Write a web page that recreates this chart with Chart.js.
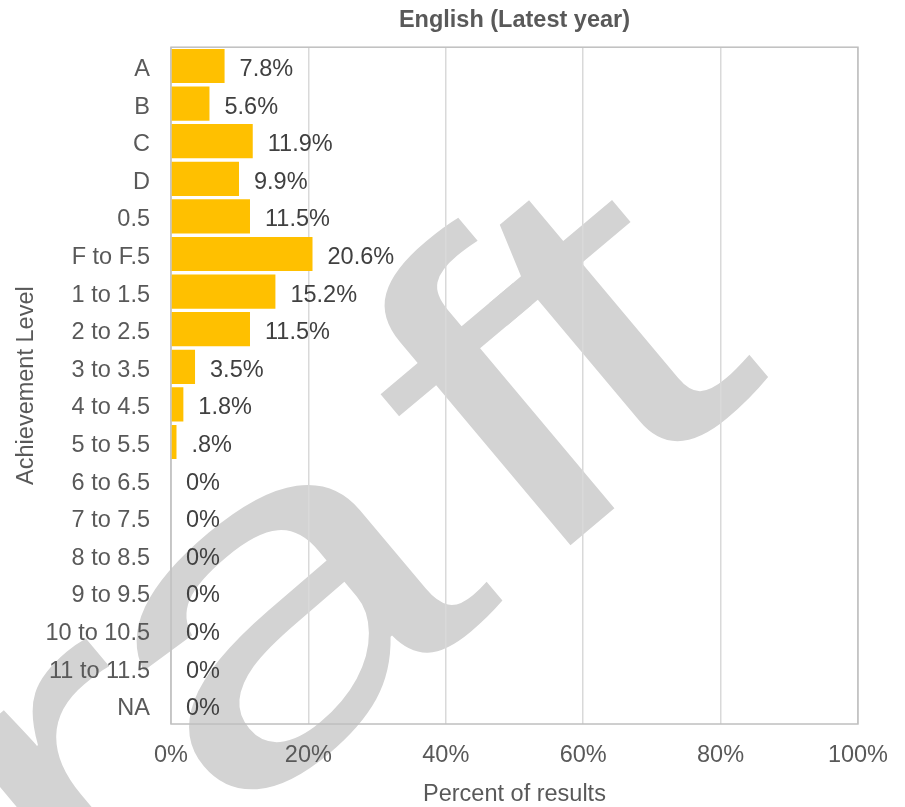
<!DOCTYPE html>
<html>
<head>
<meta charset="utf-8">
<script src="https://cdn.jsdelivr.net/npm/chart.js@4.4.1/dist/chart.umd.min.js"></script>
<style>
  html, body { margin: 0; padding: 0; background: #fff; }
  #wrap { width: 905px; height: 807px; position: relative; }
</style>
</head>
<body>
<div id="wrap"><canvas id="englishChart" width="905" height="807"></canvas></div>
<script>
// Chart data
const levels = ['A', 'B', 'C', 'D', '0.5', 'F to F.5', '1 to 1.5', '2 to 2.5', '3 to 3.5',
    '4 to 4.5', '5 to 5.5', '6 to 6.5', '7 to 7.5', '8 to 8.5', '9 to 9.5',
    '10 to 10.5', '11 to 11.5', 'NA'];
const percents = [7.8, 5.6, 11.9, 9.9, 11.5, 20.6, 15.2, 11.5, 3.5, 1.8, 0.8, 0, 0, 0, 0, 0, 0, 0];
const valueLabels = ['7.8%', '5.6%', '11.9%', '9.9%', '11.5%', '20.6%', '15.2%', '11.5%', '3.5%',
    '1.8%', '.8%', '0%', '0%', '0%', '0%', '0%', '0%', '0%'];
const xTickValues = [0, 20, 40, 60, 80, 100];

const FONT = "'Liberation Sans', Arial, sans-serif";
Chart.defaults.font.family = FONT;
Chart.defaults.font.size = 23.5;
Chart.defaults.color = '#595959';

// Grey "Draft" watermark behind the chart (letters placed one by one)
const watermark = {
    id: 'watermark',
    beforeDraw(chart) {
        const ctx = chart.ctx;
        const pieces = [['Dr', 0], ['a', 454], ['f', 725], ['t', 822]];
        ctx.save();
        ctx.translate(-279, 1258);
        ctx.rotate(-40 * Math.PI / 180);
        ctx.scale(1.45, 1);
        ctx.font = '450px ' + FONT;
        ctx.fillStyle = '#d3d3d3';
        ctx.textBaseline = 'alphabetic';
        pieces.forEach(([txt, u]) => ctx.fillText(txt, u, 0));
        ctx.restore();
    }
};

// Frame around the plot area
const plotFrame = {
    id: 'plotFrame',
    beforeDatasetsDraw(chart) {
        const { ctx, chartArea: a } = chart;
        ctx.save();
        ctx.strokeStyle = '#bfbfbf';
        ctx.lineWidth = 1.5;
        ctx.strokeRect(a.left, a.top, a.right - a.left, a.bottom - a.top);
        ctx.restore();
    }
};

// Value labels at the end of each bar
const barLabels = {
    id: 'barLabels',
    afterDatasetsDraw(chart) {
        const ctx = chart.ctx;
        const meta = chart.getDatasetMeta(0);
        ctx.save();
        ctx.font = '23.5px ' + FONT;
        ctx.fillStyle = '#404040';
        ctx.textAlign = 'left';
        ctx.textBaseline = 'middle';
        meta.data.forEach((bar, i) => {
            ctx.fillText(valueLabels[i], bar.x + 15, bar.y + 3.5);
        });
        ctx.restore();
    }
};

const ctx = document.getElementById('englishChart').getContext('2d');
new Chart(ctx, {
    type: 'bar',
    data: {
        labels: levels,
        datasets: [{
            data: percents,
            backgroundColor: '#ffc000',
            borderWidth: 0,
            barPercentage: 0.91,
            categoryPercentage: 1
        }]
    },
    options: {
        indexAxis: 'y',
        responsive: false,
        animation: false,
        layout: { padding: { top: 0, right: 47, bottom: 0, left: 0 } },
        plugins: {
            legend: { display: false },
            tooltip: { enabled: false },
            title: {
                display: true,
                text: 'English (Latest year)',
                fullSize: false,
                color: '#595959',
                font: { size: 23.5, weight: 'bold' },
                padding: { top: 6, bottom: 13 }
            }
        },
        scales: {
            x: {
                type: 'linear',
                min: 0,
                max: 100,
                afterBuildTicks(scale) {
                    scale.ticks = xTickValues.map(v => ({ value: v }));
                },
                afterFit(scale) { scale.height = 83; },
                ticks: {
                    padding: 17,
                    color: '#595959',
                    callback: v => v + '%'
                },
                grid: { color: '#d9d9d9', lineWidth: 1.5, drawTicks: false },
                border: { display: false },
                title: {
                    display: true,
                    text: 'Percent of results',
                    color: '#595959',
                    font: { size: 23.5, lineHeight: 1.05 },
                    padding: { top: 0, bottom: 0 }
                }
            },
            y: {
                afterFit(scale) { scale.width = 171; },
                ticks: { padding: 21, labelOffset: 3.5, color: '#595959' },
                grid: { display: false, drawTicks: false },
                border: { display: false },
                title: {
                    display: true,
                    text: 'Achievement Level',
                    color: '#595959',
                    padding: { top: 12, bottom: 0 }
                }
            }
        }
    },
    plugins: [watermark, plotFrame, barLabels]
});
</script>
</body>
</html>
